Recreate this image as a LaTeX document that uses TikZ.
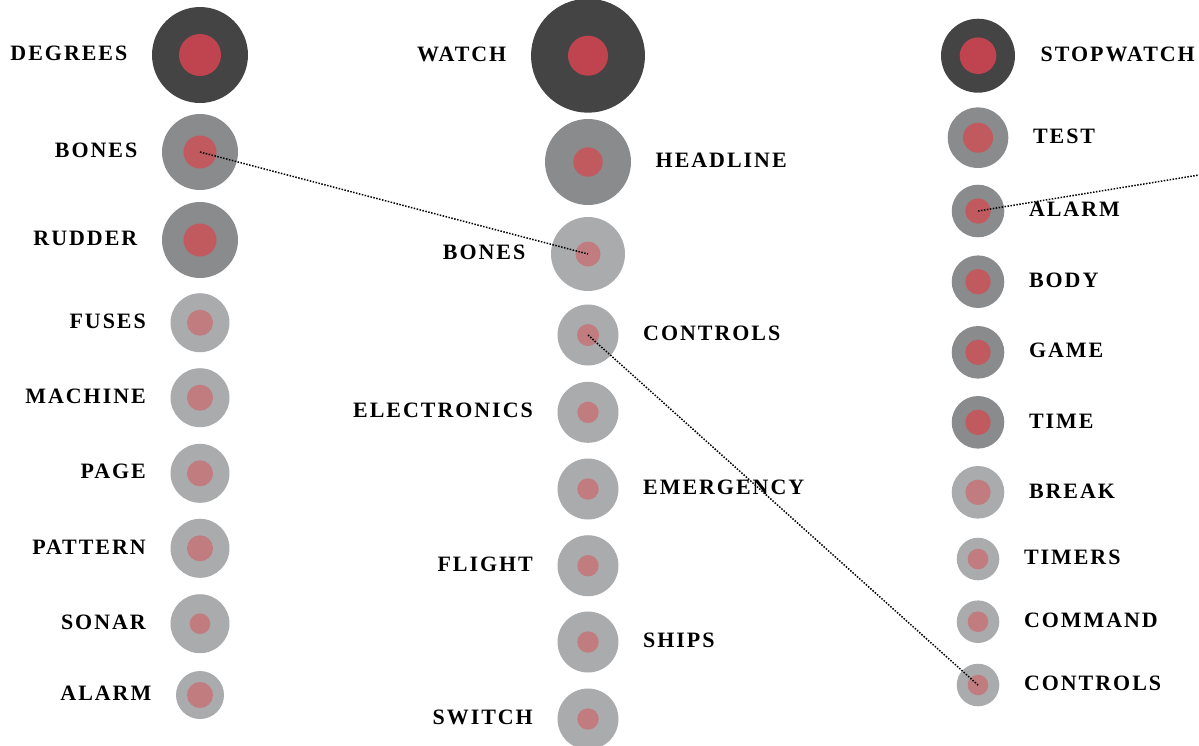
\documentclass[tikz,border=0pt]{standalone}
\usepackage{fontspec}
\setmainfont{Liberation Serif}[LetterSpace=9]
\usetikzlibrary{positioning}

\definecolor{ringdark}{HTML}{444444}
\definecolor{ringmid}{HTML}{8A8B8D}
\definecolor{ringlight}{HTML}{AAABAD}
\definecolor{coredark}{HTML}{C0444F}
\definecolor{coremid}{HTML}{C05A5E}
\definecolor{corelight}{HTML}{C17C80}

\begin{document}
\begin{tikzpicture}[x=0.02cm,y=-0.02cm,
    ring/.style={circle,inner sep=0pt,minimum size=#1*0.04cm},
    dark/.style={ring=#1,fill=ringdark},
    mid/.style={ring=#1,fill=ringmid},
    light/.style={ring=#1,fill=ringlight},
    core/.style={circle,inner sep=0pt,minimum size=#1*0.04cm},
    lbl/.style={inner sep=0pt,yshift=0.03cm,font=\fontsize{12.5}{14}\selectfont\bfseries},
    link/.style={line width=0.85pt,dash pattern=on 0.85pt off 0.85pt,black}]
   \useasboundingbox (0,0) rectangle (1199,745);
   % first column
   \node[dark=48] (degrees) at (200,55) {};
   \node[core=21,fill=coredark] at (degrees) {};
   \node[lbl,left=0.48cm of degrees] {DEGREES};
   \node[mid=38] (bonesA) at (200,152) {};
   \node[core=16.5,fill=coremid] at (bonesA) {};
   \node[lbl,left=0.48cm of bonesA] {BONES};
   \node[mid=38] (rudder) at (200,240) {};
   \node[core=16.5,fill=coremid] at (rudder) {};
   \node[lbl,left=0.48cm of rudder] {RUDDER};
   \node[light=29.5] (fuses) at (200,322.7) {};
   \node[core=13,fill=corelight] at (fuses) {};
   \node[lbl,left=0.48cm of fuses] {FUSES};
   \node[light=29.5] (machine) at (200,397.7) {};
   \node[core=13,fill=corelight] at (machine) {};
   \node[lbl,left=0.48cm of machine] {MACHINE};
   \node[light=29.5] (page) at (200,473.3) {};
   \node[core=13,fill=corelight] at (page) {};
   \node[lbl,left=0.48cm of page] {PAGE};
   \node[light=29.5] (pattern) at (200,548.3) {};
   \node[core=13,fill=corelight] at (pattern) {};
   \node[lbl,left=0.48cm of pattern] {PATTERN};
   \node[light=29.5] (sonar) at (200,623.7) {};
   \node[core=10.3,fill=corelight] at (sonar) {};
   \node[lbl,left=0.48cm of sonar] {SONAR};
   \node[light=24] (alarmA) at (200,695) {};
   \node[core=13,fill=corelight] at (alarmA) {};
   \node[lbl,left=0.48cm of alarmA] {ALARM};
   % second column
   \node[dark=57] (watch) at (588,55.7) {};
   \node[core=20,fill=coredark] at (watch) {};
   \node[lbl,left=0.48cm of watch] {WATCH};
   \node[mid=43] (headline) at (588,162) {};
   \node[core=14.7,fill=coremid] at (headline) {};
   \node[lbl,right=0.48cm of headline] {HEADLINE};
   \node[light=37] (bonesB) at (588,254) {};
   \node[core=12.5,fill=corelight] at (bonesB) {};
   \node[lbl,left=0.5cm of bonesB] {BONES};
   \node[light=30.5] (controlsA) at (588,335) {};
   \node[core=11,fill=corelight] at (controlsA) {};
   \node[lbl,right=0.48cm of controlsA] {CONTROLS};
   \node[light=30.5] (electronics) at (588,412.3) {};
   \node[core=10.7,fill=corelight] at (electronics) {};
   \node[lbl,left=0.48cm of electronics] {ELECTRONICS};
   \node[light=30.5] (emergency) at (588,489) {};
   \node[core=10.7,fill=corelight] at (emergency) {};
   \node[lbl,right=0.48cm of emergency] {EMERGENCY};
   \node[light=30.5] (flight) at (588,565.7) {};
   \node[core=10.7,fill=corelight] at (flight) {};
   \node[lbl,left=0.48cm of flight] {FLIGHT};
   \node[light=30.5] (ships) at (588,642) {};
   \node[core=10.7,fill=corelight] at (ships) {};
   \node[lbl,right=0.48cm of ships] {SHIPS};
   \node[light=30.5] (switch) at (588,719) {};
   \node[core=10.7,fill=corelight] at (switch) {};
   \node[lbl,left=0.48cm of switch] {SWITCH};
   % third column
   \node[dark=37] (stopwatch) at (978,55.7) {};
   \node[core=18.3,fill=coredark] at (stopwatch) {};
   \node[lbl,right=0.5cm of stopwatch] {STOPWATCH};
   \node[mid=30.3] (test) at (978,137.7) {};
   \node[core=15,fill=coremid] at (test) {};
   \node[lbl,right=0.48cm of test] {TEST};
   \node[mid=26.3] (alarmC) at (978,211) {};
   \node[core=12.7,fill=coremid] at (alarmC) {};
   \node[lbl,right=0.48cm of alarmC] {ALARM};
   \node[mid=26.3] (body) at (978,281.7) {};
   \node[core=12.7,fill=coremid] at (body) {};
   \node[lbl,right=0.48cm of body] {BODY};
   \node[mid=26.3] (game) at (978,352.3) {};
   \node[core=12.7,fill=coremid] at (game) {};
   \node[lbl,right=0.48cm of game] {GAME};
   \node[mid=26.3] (time) at (978,422.3) {};
   \node[core=12.7,fill=coremid] at (time) {};
   \node[lbl,right=0.48cm of time] {TIME};
   \node[light=26.3] (break) at (978,492.3) {};
   \node[core=12.7,fill=corelight] at (break) {};
   \node[lbl,right=0.48cm of break] {BREAK};
   \node[light=21.3] (timers) at (978,559) {};
   \node[core=10.3,fill=corelight] at (timers) {};
   \node[lbl,right=0.48cm of timers] {TIMERS};
   \node[light=21.3] (command) at (978,621.7) {};
   \node[core=10.3,fill=corelight] at (command) {};
   \node[lbl,right=0.48cm of command] {COMMAND};
   \node[light=21.3] (controlsC) at (978,685) {};
   \node[core=10.3,fill=corelight] at (controlsC) {};
   \node[lbl,right=0.48cm of controlsC] {CONTROLS};
   % links
   \coordinate (offpage) at (1199,175);
   \draw[link] (bonesA.center) -- (bonesB.center);
   \draw[link] (controlsA.center) -- (controlsC.center);
   \draw[link] (alarmC.center) -- (offpage);
\end{tikzpicture}
\end{document}
